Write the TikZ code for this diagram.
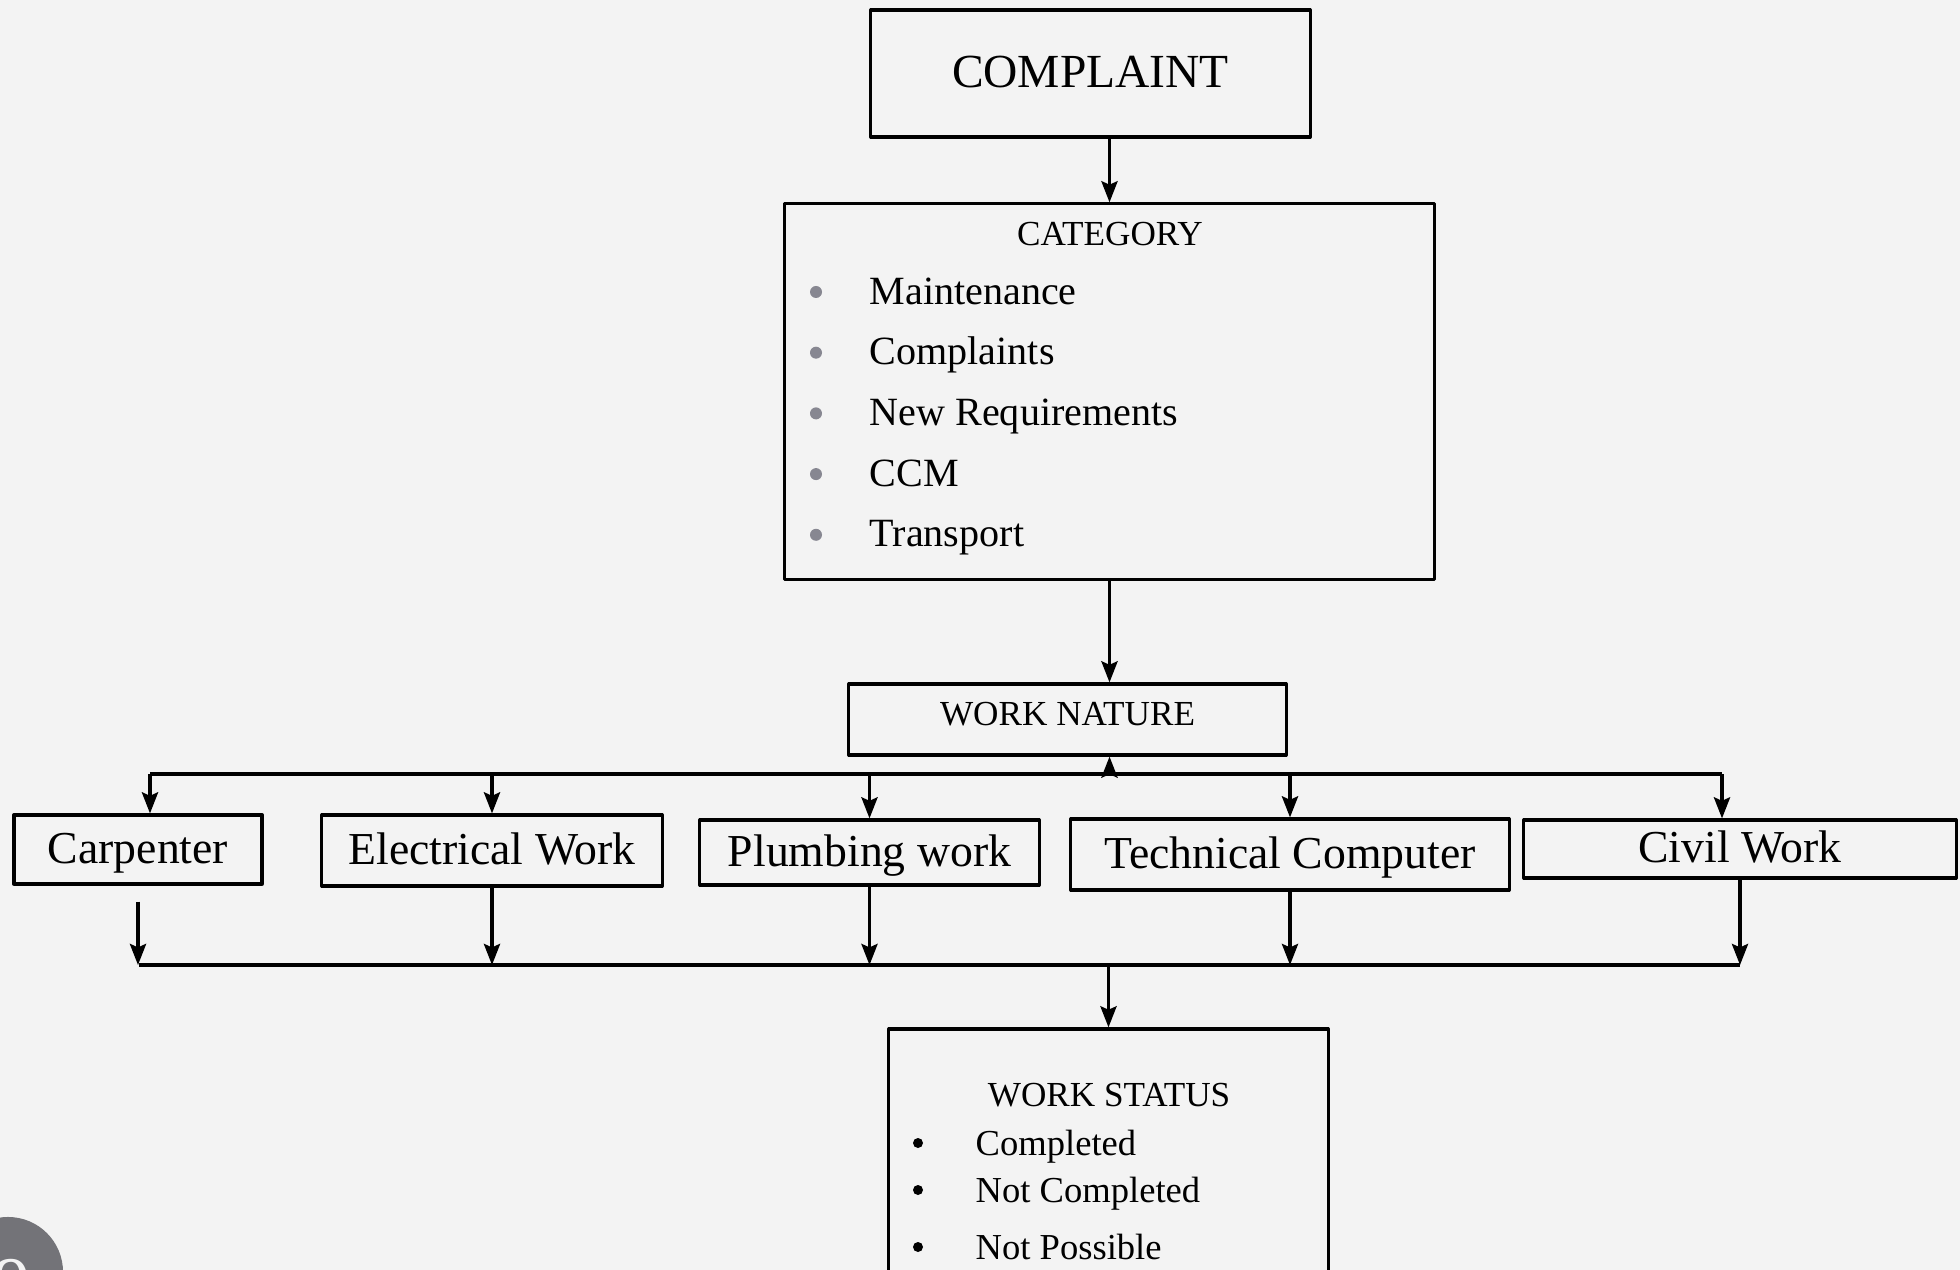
\documentclass[tikz,border=0pt]{standalone}
\usepackage{fontspec}
\setmainfont{Liberation Serif}
\usetikzlibrary{arrows.meta}
\definecolor{paper}{RGB}{243,243,243}
\definecolor{dotgray}{RGB}{135,135,145}
\definecolor{pagegray}{RGB}{115,115,120}
\begin{document}
\begin{tikzpicture}[x=0.01cm,y=-0.01cm,line join=round,>={Stealth[length=6pt,width=4.6pt,inset=1pt]},
	box/.style={draw,line width=0.9pt,inner sep=0pt},
	arr/.style={->,line width=0.9pt},
	wire/.style={line width=0.9pt},
	head/.style={font=\fontsize{10}{12}\selectfont},
	trade/.style={font=\fontsize{13}{15}\selectfont,text height=1.8ex,text depth=.1ex},
	item/.style={anchor=mid west,inner sep=0pt}]
	% page
	\fill[paper] (0,0) rectangle (1960,1270);
	\useasboundingbox (0,0) rectangle (1960,1270);
	\clip (0,0) rectangle (1960,1270);
	% top boxes
	\node[box,trade,font=\fontsize{13.5}{15}\selectfont,minimum width=4.39cm,minimum height=1.27cm] (comp) at (1090.5,73.5) {COMPLAINT};
	\node[box,minimum width=6.49cm,minimum height=3.75cm] (cat) at (1109.5,391.5) {};
	\node[head] (cattitle) at (1110,234) {CATEGORY};
	\foreach \t [count=\i] in {Maintenance,Complaints,New Requirements,CCM,Transport}{
		\pgfmathsetmacro{\yy}{296+(\i-1)*60.7}
		\fill[dotgray] (816,\yy-4) circle[radius=0.06cm];
		\node[item,font=\fontsize{11.4}{13}\selectfont] (catitem\i) at (869,\yy) {\t};
	}
	\node[box,head,text depth=3.4pt,minimum width=4.37cm,minimum height=0.71cm] (nat) at (1067.5,719.5) {WORK NATURE};
	% trades
	\node[box,trade,minimum width=2.48cm,minimum height=0.69cm] (carp) at (138,849.5) {Carpenter};
	\node[box,trade,minimum width=3.40cm,minimum height=0.71cm] (elec) at (492,850.5) {Electrical Work};
	\node[box,trade,minimum width=3.39cm,minimum height=0.65cm] (plumb) at (869.5,852.5) {Plumbing work};
	\node[box,trade,minimum width=4.38cm,minimum height=0.71cm] (tech) at (1290,854.5) {Technical Computer};
	\node[box,trade,minimum width=4.32cm,minimum height=0.58cm] (civil) at (1740,849) {Civil Work};
	% status
	\node[box,minimum width=4.39cm,minimum height=2.46cm] (stat) at (1108.5,1152) {};
	\node[head] (stattitle) at (1109,1095) {WORK STATUS};
	\foreach \yy/\t [count=\i] in {1147/Completed,1194/Not Completed,1251/Not Possible}{
		\fill (918,\yy-4) circle[radius=0.05cm];
		\node[item,font=\fontsize{10.4}{12}\selectfont] (statitem\i) at (975,\yy) {\t};
	}
	% connectors
	\coordinate (dl) at (150,774);
	\coordinate (dr) at (1722,774);
	\coordinate (gl) at (139,965);
	\coordinate (gr) at (1740,965);
	\draw[arr] (cat.north |- comp.south) -- (cat.north);
	\draw[arr] (cat.south) -- (cat.south |- nat.north);
	\draw[wire] (dl) -- (dr);
	\draw[arr] (cat.south |- dl) -- (cat.south |- nat.south);
	\draw[arr] (dl) -- (dl |- carp.north);
	\draw[arr] (elec.north |- dl) -- (elec.north);
	\draw[arr] (plumb.north |- dl) -- (plumb.north);
	\draw[arr] (tech.north |- dl) -- (tech.north);
	\draw[arr] (dr) -- (dr |- civil.north);
	\draw[arr] ([yshift=-0.16cm]carp.south) -- (carp.south |- gl);
	\draw[arr] (elec.south) -- (elec.south |- gl);
	\draw[arr] (plumb.south) -- (plumb.south |- gl);
	\draw[arr] (tech.south) -- (tech.south |- gl);
	\draw[arr] (civil.south) -- (gr);
	\draw[wire] (gl) -- (gr);
	\draw[arr] (stat.north |- gl) -- (stat.north);
	% page number
	\fill[pagegray] (8,1272) circle[radius=0.55cm];
	\node[text=paper,font=\fontsize{22}{24}\selectfont] (pageno) at (12,1285) {9};
\end{tikzpicture}
\end{document}
